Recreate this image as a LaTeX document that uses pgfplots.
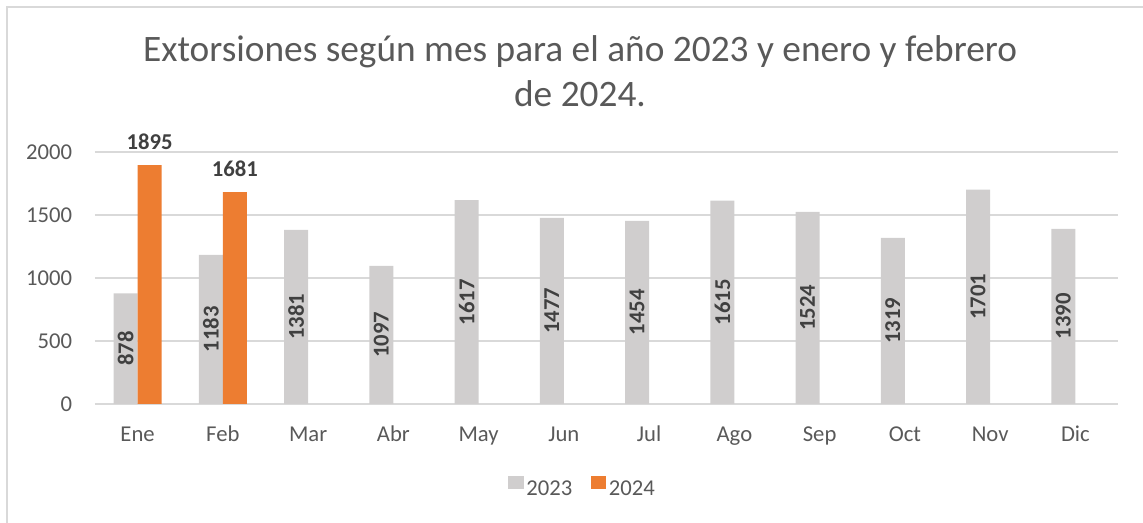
\documentclass[border=0pt]{standalone}
\usepackage{pgfplots}
\pgfplotsset{compat=1.18}
\usepackage{fontspec}
\setmainfont{Carlito}
\definecolor{bargray}{HTML}{D0CECE}
\definecolor{barorange}{HTML}{ED7D31}
\definecolor{txtgray}{HTML}{595959}
\definecolor{lblgray}{HTML}{404040}
\definecolor{gridgray}{HTML}{D9D9D9}
\begin{document}
\begin{tikzpicture}[x=0.75pt,y=0.75pt]
\path[use as bounding box] (0,0) rectangle (1143,523);
\draw[gridgray,line width=1.5pt] (7,0) -- (7,516) -- (1143,516);
\node[anchor=base,align=center,font=\fontsize{28pt}{33.75pt}\selectfont,text=txtgray,inner sep=0pt] at (580,416) {Extorsiones según mes para el año 2023 y enero y febrero\\de 2024.};
\begin{axis}[
  at={(71.25pt,89.25pt)}, anchor=south west,
  scale only axis, width=767.25pt, height=189pt,
  ybar=0pt, bar width=18pt,
  xmin=-0.5, xmax=11.5, ymin=0, ymax=2000,
  xtick={0,...,11},
  xticklabels={Ene,Feb,Mar,Abr,May,Jun,Jul,Ago,Sep,Oct,Nov,Dic},
  ytick={0,500,1000,1500,2000},
  ymajorgrids, grid style={gridgray,line width=1pt},
  axis line style={draw=none},
  major tick length=0pt,
  tick label style={font=\fontsize{17pt}{20pt}\selectfont,text=txtgray},
  yticklabel style={anchor=east,inner sep=0pt,xshift=-17pt},
  xticklabel style={anchor=base,inner sep=0pt,yshift=-28.5pt},
  /pgf/number format/assume math mode=true,
  /pgf/number format/1000 sep={},
  clip=false,
  legend columns=2,
  legend style={at={(0.477,-0.333)},anchor=center,draw=none,fill=none,
    font=\fontsize{17pt}{20pt}\selectfont,text=txtgray,
    /tikz/every even column/.append style={column sep=12pt},
    nodes={inner sep=2pt}},
  legend image code/.code={\fill[#1] (-1pt,0pt) rectangle (10.5pt,9.5pt);},
  nodes near coords={\pgfmathprintnumber[fixed,precision=0,1000 sep={}]{\pgfplotspointmeta}},
  visualization depends on={rawy \as \rawy},
]
\addplot[fill=bargray,draw=none,
  every node near coord/.append style={yshift={-0.04725*\rawy},rotate=90,anchor=center,
    font=\fontsize{17pt}{20pt}\selectfont\bfseries,text=lblgray}]
  coordinates {(0,878) (1,1183) (2,1381) (3,1097) (4,1617) (5,1477) (6,1454) (7,1615) (8,1524) (9,1319) (10,1701) (11,1390)};
\addplot[fill=barorange,draw=none,
  every node near coord/.append style={anchor=south,inner sep=0pt,yshift=11.25pt,
    font=\fontsize{17pt}{20pt}\selectfont\bfseries,text=lblgray}]
  coordinates {(0,1895) (1,1681)};
\legend{2023,2024}
\end{axis}
\end{tikzpicture}
\end{document}
